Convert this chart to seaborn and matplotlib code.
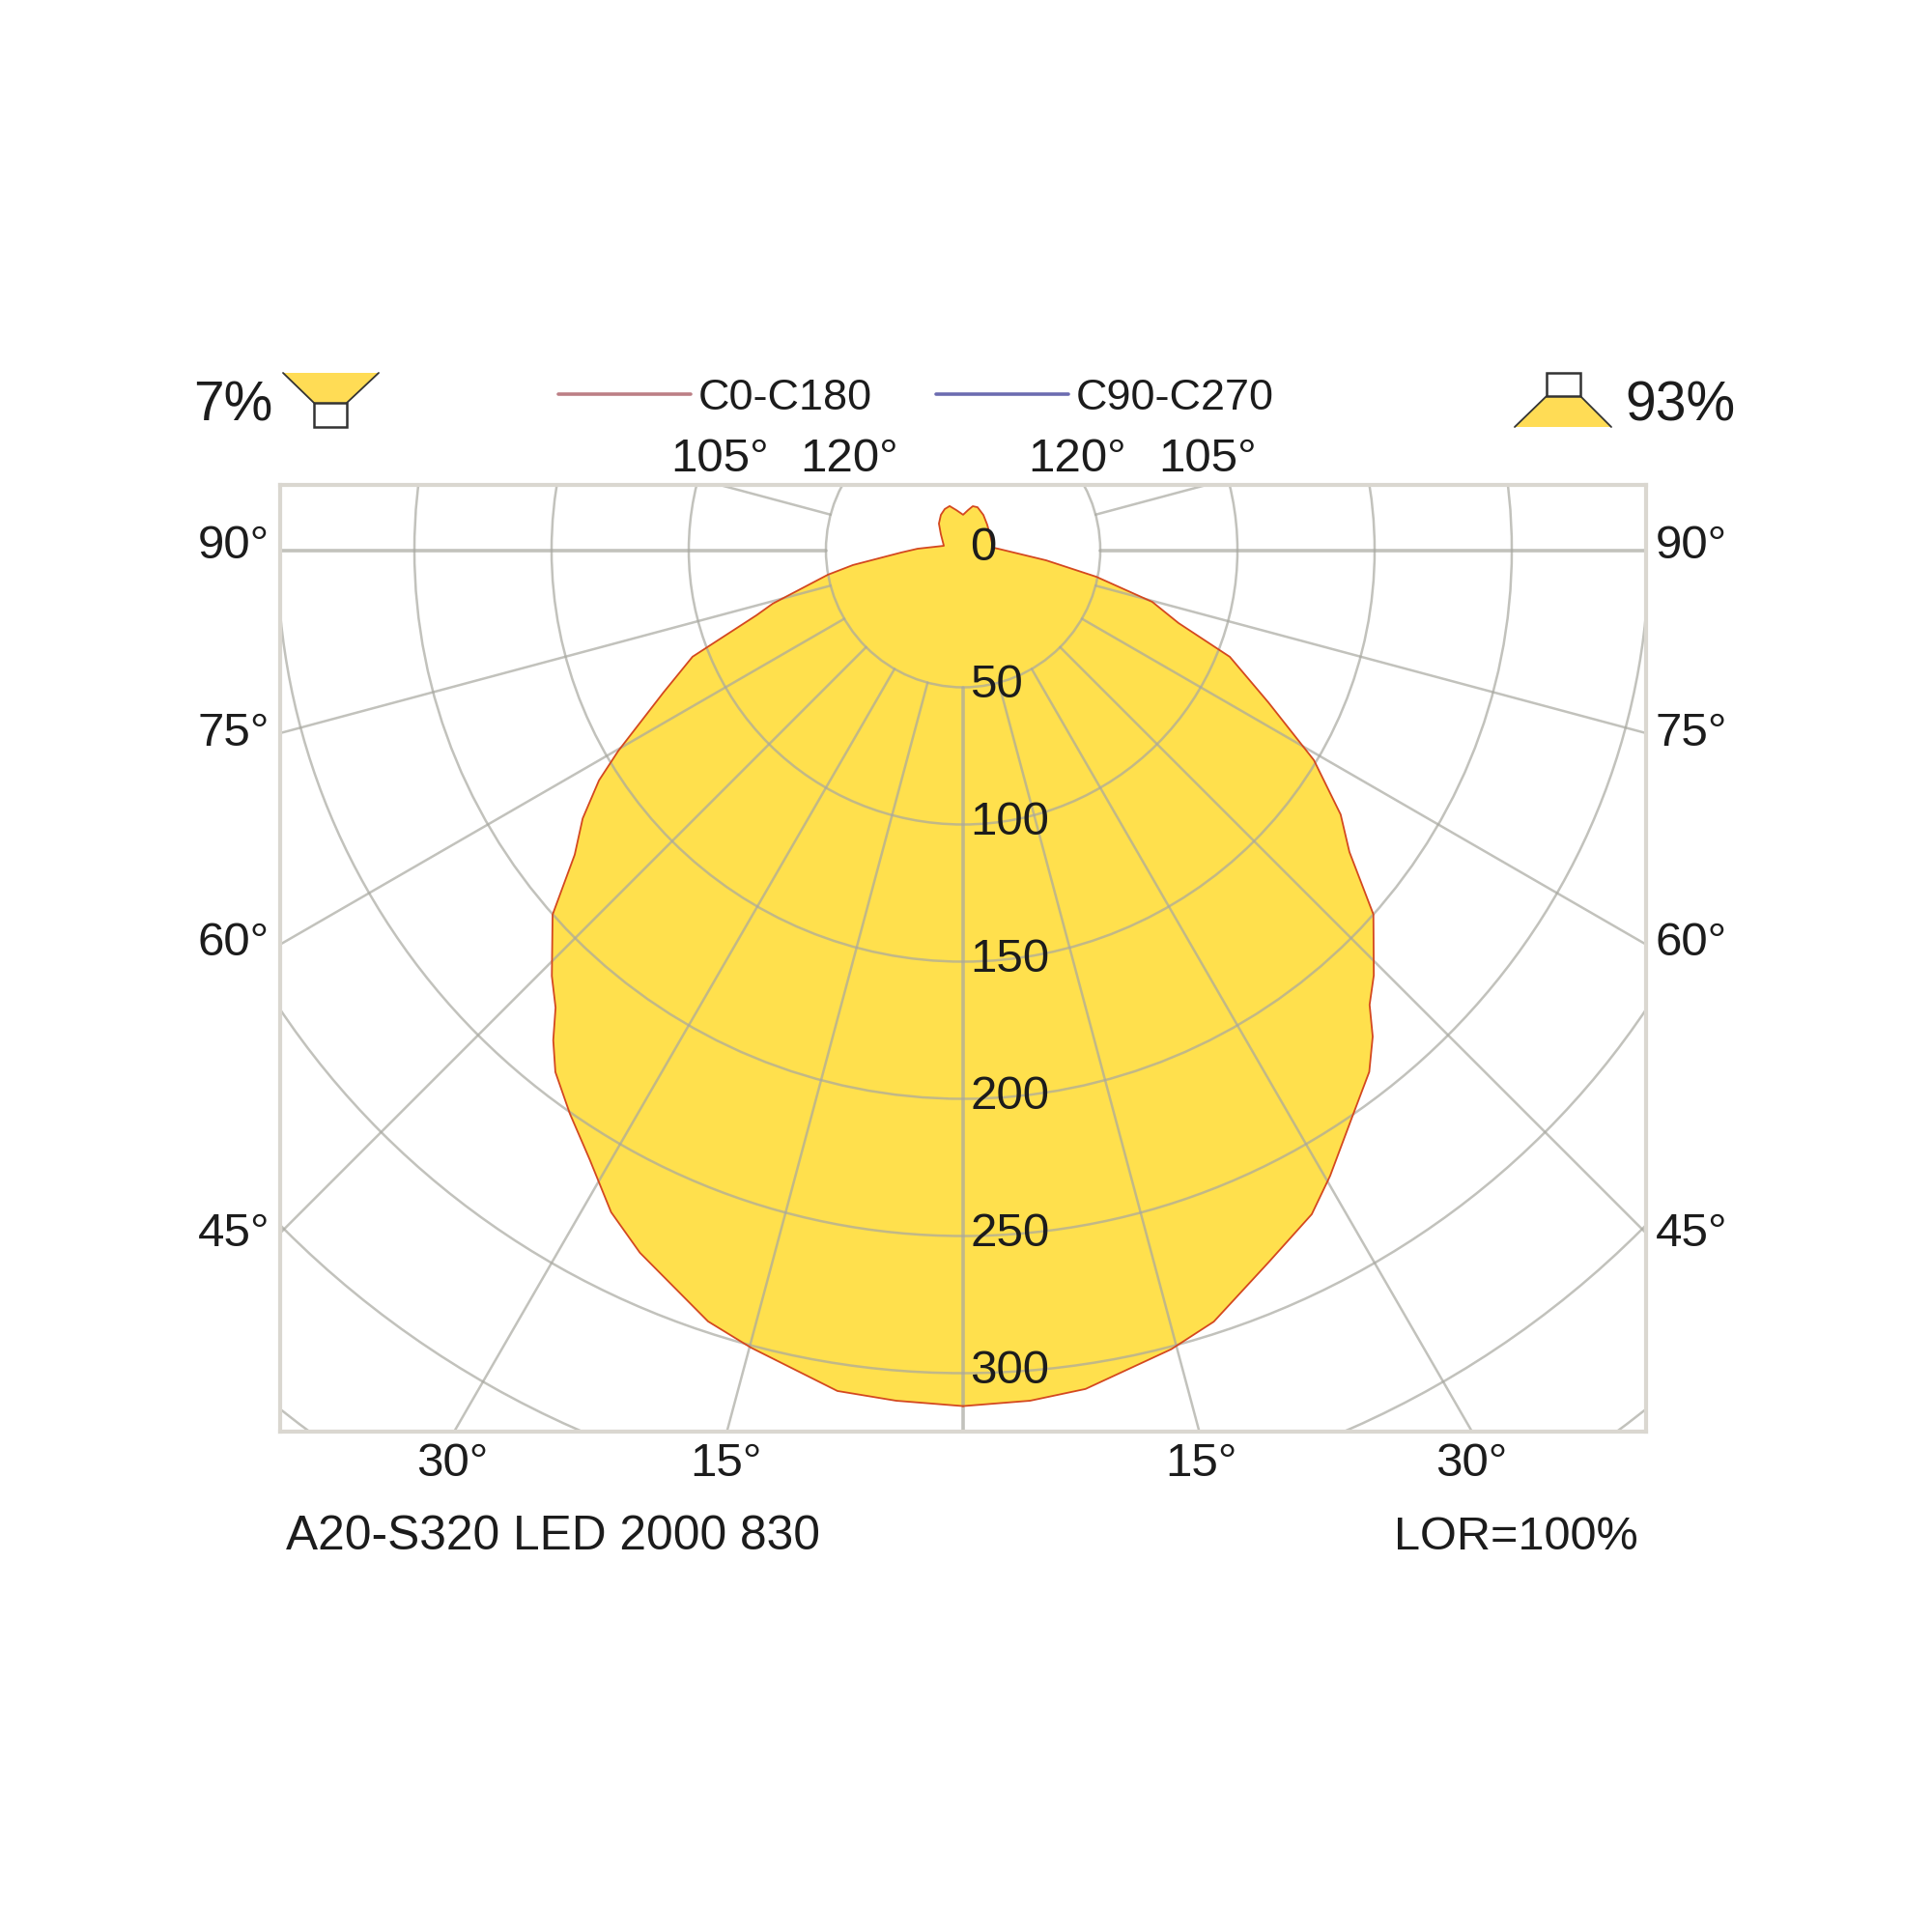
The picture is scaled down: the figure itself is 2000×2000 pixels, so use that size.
import numpy as np
import pandas as pd
import matplotlib
matplotlib.use("Agg")
import matplotlib.pyplot as plt
from matplotlib.lines import Line2D
from matplotlib.patches import Circle, Polygon
import seaborn as sns

# ------------------------------
# data (gamma in degrees, intensity in cd)
# ------------------------------
right_gamma = [0, 4.5, 8.3, 14.6, 18, 23.2, 27.7, 30.4, 34.4, 37.9, 40.1, 41.8, 44, 48.4,
               52, 55, 59.1, 63.5, 68.2, 71.3, 74.7, 78.7, 83, 92.4, 94.6, 111.6, 136.7,
               150, 161.4, 167.6, 173, 180]
right_cd = [312, 311, 309, 301, 295.7, 282.5, 273.4, 264.4, 250.8, 241, 231.8, 222.3, 215.5, 200,
            178.7, 168, 149, 124.3, 104.7, 82.9, 71.5, 49.5, 30.5, 12.7, 11, 11, 12.8,
            14.8, 16.5, 16.4, 14.7, 12.9]
left_gamma = [4.5, 8.5, 14.9, 18.3, 24.7, 28, 31.5, 34.9, 38, 39.9, 41.7, 44, 48.4,
              51.9, 54.8, 57.7, 59.8, 64.6, 68.5, 72.5, 74.3, 79.7, 82.3, 87.8, 91.8, 102.7,
              125.7, 137.7, 147.8, 155.9, 163, 170.4]
left_cd = [311, 309.9, 300.8, 296.1, 281.9, 273.3, 260.5, 250.5, 241.4, 232.9, 223.3, 215.8, 200.1,
           179.9, 169.7, 157, 145.4, 120.9, 106, 79, 72.1, 50.1, 40.5, 22.6, 16.6, 7.2,
           10, 13.1, 15.2, 16.4, 16.8, 14.8]

circle_cd = [50, 100, 150, 200, 250, 300, 350, 400]
cd_labels = [0, 50, 100, 150, 200, 250, 300]
spoke_angles = [0, 15, -15, 30, -30, 45, -45, 60, -60, 75, -75, 90, -90, 105, -105, 120, -120]
series_names = ["C0-C180", "C90-C270"]
product_name = "A20-S320 LED 2000 830"
lor_text = "LOR=100%"
down_share = "7%"
up_share = "93%"

# ------------------------------
# layout, in pixels of the 2000x2000 picture
# ------------------------------
W = 2000
FRAME = (290, 502, 1704, 1482)
CX, CY = 997, 569.5
PX_PER_CD = 2.84

GRID = "#A8A8A0"
YELLOW = "#FFE04D"
TEXT = "#1c1c1c"


def fx(x):
    return x / W


def fy(y):
    return 1 - y / W


sns.set_theme(style="white")
plt.rcParams["font.family"] = ["Liberation Sans", "DejaVu Sans"]

fig = plt.figure(figsize=(20, 20), dpi=100, facecolor="white")
ax = fig.add_axes([fx(FRAME[0]), fy(FRAME[3]), (FRAME[2] - FRAME[0]) / W, (FRAME[3] - FRAME[1]) / W])
ax.set_xlim((FRAME[0] - CX) / PX_PER_CD, (FRAME[2] - CX) / PX_PER_CD)
ax.set_ylim((CY - FRAME[3]) / PX_PER_CD, (CY - FRAME[1]) / PX_PER_CD)
ax.set_xticks([])
ax.set_yticks([])
for s in ax.spines.values():
    s.set_color("#DAD7D0")
    s.set_linewidth(3)

# polar curve to x/y
theta = np.radians(right_gamma + [-a for a in left_gamma[::-1]] + [0])
cd = np.array(right_cd + left_cd[::-1] + [right_cd[0]])
curve = pd.DataFrame({"x": cd * np.sin(theta), "y": -cd * np.cos(theta)})

ax.fill(curve["x"], curve["y"], color=YELLOW, lw=0, zorder=1)

# grid
for r in circle_cd:
    ax.add_patch(Circle((0, 0), r, fill=False, ec=GRID, lw=1.8, alpha=0.7, zorder=2))
for a in spoke_angles:
    t = np.radians(a)
    lw = 2.6 if abs(a) in (0, 90) else 1.8
    ax.plot([50 * np.sin(t), 600 * np.sin(t)], [-50 * np.cos(t), -600 * np.cos(t)],
            color=GRID, lw=lw, alpha=0.7, zorder=2)

sns.lineplot(data=curve, x="x", y="y", sort=False, estimator=None, color="#D4481F",
             lw=1.3, zorder=3, legend=False, ax=ax)
ax.set_xlabel("")
ax.set_ylabel("")

# candela labels
for v in cd_labels:
    ax.text(2.5, -v + 0.6, str(v), fontsize=35.5, color=TEXT, ha="left", va="center", zorder=5)


def label(x, y, s, size=35.5, ha="center"):
    fig.text(fx(x), fy(y), s, fontsize=size, color=TEXT, ha=ha, va="center")


# angle labels
for s, y in zip(["90°", "75°", "60°", "45°"], [566, 759, 977, 1277]):
    label(242, y, s)
    label(1751, y, s)
for s, x in zip(["105°", "120°", "120°", "105°"], [745, 879, 1115, 1250]):
    label(x, 475, s)
for s, x in zip(["30°", "15°", "15°", "30°"], [468, 751, 1243, 1523]):
    label(x, 1516, s)
label(296, 1591, product_name, size=35.75, ha="left")
label(1696, 1591, lor_text, size=35, ha="right")
label(241, 421, down_share, size=41)
label(1739, 421, up_share, size=41)

# legend
handles = [Line2D([], [], color="#BC7F85", lw=2.6), Line2D([], [], color="#6C6CB0", lw=2.6)]
ax.legend(handles, series_names, ncols=2, loc="center left", frameon=False, fontsize=32.4,
          bbox_to_anchor=(fx(578), fy(412)), bbox_transform=fig.transFigure, borderpad=0,
          borderaxespad=0, handlelength=3.05, handletextpad=0.17, columnspacing=1.47,
          labelcolor=TEXT)


# direct / indirect share icons
def icon(points, box):
    pts = [(fx(x), fy(y)) for x, y in points]
    fig.add_artist(Polygon(pts, closed=True, fc="#FFDC55", ec="none", transform=fig.transFigure))
    for a, b in [(pts[0], pts[3]), (pts[1], pts[2])]:
        fig.add_artist(Line2D([a[0], b[0]], [a[1], b[1]], color="#333333", lw=1.3))
    bpts = [(fx(x), fy(y)) for x, y in box]
    fig.add_artist(Polygon(bpts, closed=True, fc="white", ec="#333333", lw=1.8, transform=fig.transFigure))


icon([(293, 386), (392, 386), (359, 417), (325, 417)], [(325, 417), (359, 417), (359, 442), (325, 442)])
icon([(1568, 442), (1668, 442), (1636, 410), (1601, 410)], [(1601, 386), (1636, 386), (1636, 410), (1601, 410)])

fig.savefig("out.png", dpi=100)
